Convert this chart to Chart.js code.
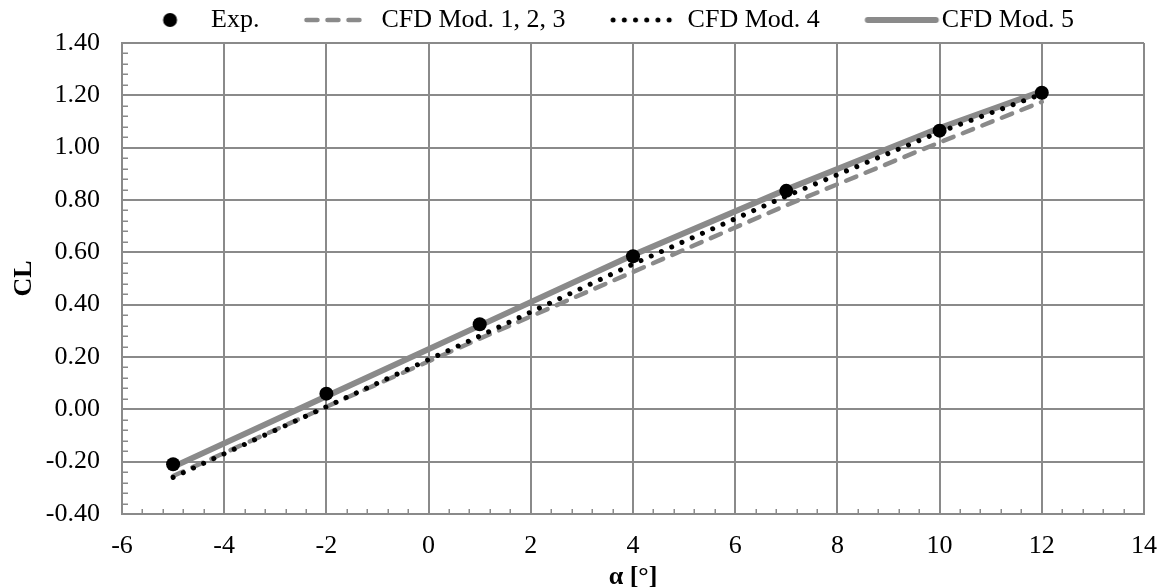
<!DOCTYPE html>
<html>
<head>
<meta charset="utf-8">
<title>CL vs angle of attack</title>
<script src="https://cdn.jsdelivr.net/npm/chart.js@4.4.1/dist/chart.umd.min.js"></script>
<style>
  html, body { margin: 0; padding: 0; background: #ffffff; }
  #wrap { width: 1162px; height: 588px; }
</style>
</head>
<body>
<div id="wrap"><canvas id="chart" width="1162" height="588"></canvas></div>
<script>
// Angle of attack [deg] shared by all series
const alpha = [-5, -2, 1, 4, 7, 10, 12];

// Lift coefficient
const clExp    = [-0.21, 0.06, 0.325, 0.585, 0.835, 1.065, 1.21];
const clMod123 = [-0.255, 0.01, 0.27, 0.525, 0.78, 1.02, 1.175];
const clMod4   = [-0.26, 0.01, 0.28, 0.555, 0.815, 1.06, 1.205];
const clMod5   = [-0.22, 0.05, 0.32, 0.59, 0.84, 1.075, 1.215];

const seriesNames = ['Exp.', 'CFD Mod. 1, 2, 3', 'CFD Mod. 4', 'CFD Mod. 5'];

const xTickLabels = ['-6', '-4', '-2', '0', '2', '4', '6', '8', '10', '12', '14'];
const yTickLabels = ['-0.40', '-0.20', '0.00', '0.20', '0.40', '0.60', '0.80', '1.00', '1.20', '1.40'];

const GRAY = '#8a8a8a';
const FONT = 'Liberation Serif, Times New Roman, serif';

const pts = (ys) => alpha.map((a, i) => ({ x: a, y: ys[i] }));

// Small canvases used as legend swatches
function swatch(width, draw) {
  const c = document.createElement('canvas');
  c.width = width;
  c.height = 20;
  const g = c.getContext('2d');
  draw(g, width / 2, 10);
  return c;
}
const legendSwatches = [
  swatch(70, (g, cx, cy) => {
    g.fillStyle = '#000';
    g.beginPath(); g.arc(cx + 23.5, cy, 7, 0, Math.PI * 2); g.fill();
  }),
  swatch(110, (g, cx, cy) => {
    g.strokeStyle = GRAY; g.lineWidth = 4.5; g.lineCap = 'round';
    g.setLineDash([11, 10]);
    g.beginPath(); g.moveTo(cx - 10.5, cy); g.lineTo(cx + 47.5, cy); g.stroke();
  }),
  swatch(120, (g, cx, cy) => {
    g.strokeStyle = '#000'; g.lineWidth = 5; g.lineCap = 'round';
    g.setLineDash([0.01, 11.2]);
    g.beginPath(); g.moveTo(cx - 10, cy); g.lineTo(cx + 52.5, cy); g.stroke();
  }),
  swatch(130, (g, cx, cy) => {
    g.strokeStyle = GRAY; g.lineWidth = 6; g.lineCap = 'round';
    g.beginPath(); g.moveTo(cx - 9.5, cy); g.lineTo(cx + 58.5, cy); g.stroke();
  })
];

// Inside minor tick marks along both axes
const minorTicks = {
  id: 'minorTicks',
  beforeDatasetsDraw(chart) {
    const { ctx, chartArea, scales } = chart;
    const x = scales.x, y = scales.y;
    ctx.save();
    ctx.strokeStyle = GRAY;
    ctx.lineWidth = 1.5;
    ctx.beginPath();
    for (let i = 1; i < 50; i++) {
      if (i % 5 === 0) continue;
      const px = Math.round(x.getPixelForValue(-6 + i * 0.4)) + 0.25;
      ctx.moveTo(px, chartArea.bottom);
      ctx.lineTo(px, chartArea.bottom - 5);
    }
    for (let i = 1; i < 45; i++) {
      if (i % 5 === 0) continue;
      const py = Math.round(y.getPixelForValue(-0.4 + i * 0.04)) + 0.25;
      ctx.moveTo(chartArea.left, py);
      ctx.lineTo(chartArea.left + 6, py);
    }
    ctx.stroke();
    ctx.restore();
  }
};

// Nudge the centred legend row to the right
const legendNudge = {
  id: 'legendNudge',
  afterLayout(chart) { chart.legend.left += 25; }
};

Chart.defaults.color = '#000';
Chart.defaults.font.family = FONT;
Chart.defaults.font.size = 26;

new Chart(document.getElementById('chart'), {
  type: 'scatter',
  data: {
    datasets: [
      {
        label: seriesNames[0], data: pts(clExp), showLine: false,
        pointRadius: 7, pointHoverRadius: 7, pointBackgroundColor: '#000',
        pointBorderWidth: 0, order: 0
      },
      {
        label: seriesNames[1], data: pts(clMod123), showLine: true, pointRadius: 0,
        borderColor: GRAY, borderWidth: 4.5, borderDash: [11, 10], borderCapStyle: 'round',
        borderJoinStyle: 'round', tension: 0, order: 2
      },
      {
        label: seriesNames[2], data: pts(clMod4), showLine: true, pointRadius: 0,
        borderColor: '#000', borderWidth: 5, borderDash: [0.01, 11.2], borderCapStyle: 'round',
        borderJoinStyle: 'round', tension: 0, order: 1
      },
      {
        label: seriesNames[3], data: pts(clMod5), showLine: true, pointRadius: 0,
        borderColor: GRAY, borderWidth: 6, borderCapStyle: 'round',
        borderJoinStyle: 'round', tension: 0, order: 3
      }
    ]
  },
  options: {
    responsive: false,
    animation: false,
    devicePixelRatio: 1,
    layout: { padding: { top: 1, right: 18, bottom: 0, left: 0 } },
    plugins: {
      tooltip: { enabled: false },
      legend: {
        position: 'top',
        labels: {
          usePointStyle: true,
          pointStyleWidth: 103,
          padding: 6,
          color: '#000',
          font: { family: FONT, size: 26 },
          generateLabels: () => seriesNames.map((name, i) => ({
            text: name,
            pointStyle: legendSwatches[i],
            fillStyle: '#000',
            strokeStyle: '#000',
            lineWidth: 0,
            hidden: false,
            datasetIndex: i,
            fontColor: '#000'
          }))
        }
      }
    },
    scales: {
      x: {
        type: 'linear',
        min: -6, max: 14,
        afterFit: (s) => { s.height = 74; s.paddingLeft = 0; s.paddingRight = 0; },
        ticks: {
          stepSize: 2,
          padding: 17,
          color: '#000',
          font: { family: FONT, size: 26 },
          callback: (v, i) => xTickLabels[i]
        },
        grid: { color: GRAY, lineWidth: 2, drawTicks: false },
        border: { color: GRAY, width: 2 },
        title: {
          display: true, text: 'α [°]', color: '#000',
          font: { family: FONT, size: 26, weight: 'bold', lineHeight: 0.8 },
          padding: 0
        }
      },
      y: {
        type: 'linear',
        min: -0.4, max: 1.4,
        afterFit: (s) => { s.width = 122; },
        ticks: {
          stepSize: 0.2,
          padding: 22,
          color: '#000',
          font: { family: FONT, size: 26 },
          callback: (v, i) => yTickLabels[i]
        },
        grid: { color: GRAY, lineWidth: 2, drawTicks: false },
        border: { color: GRAY, width: 2 },
        title: {
          display: true, text: 'CL', color: '#000',
          font: { family: FONT, size: 26, weight: 'bold' },
          padding: { top: 9, bottom: 0 }
        }
      }
    }
  },
  plugins: [minorTicks, legendNudge]
});
</script>
</body>
</html>
